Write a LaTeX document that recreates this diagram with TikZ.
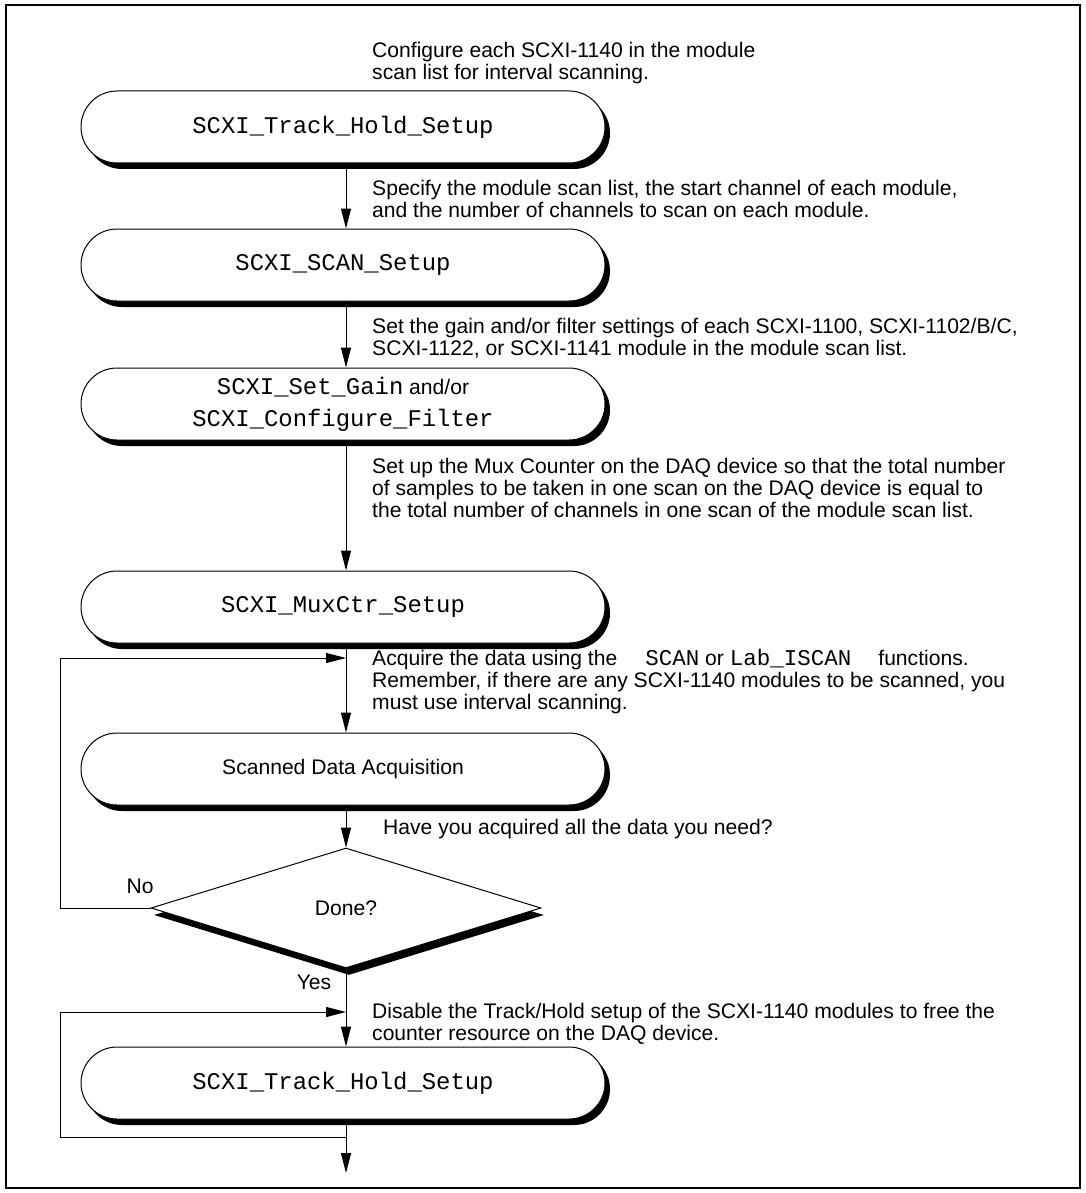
\documentclass[tikz,border=0pt]{standalone}
\usepackage{fontspec}
\setmainfont{Liberation Sans}
\setmonofont{Liberation Mono}
\usetikzlibrary{shapes.geometric,shapes.misc,shadows,arrows.meta}
\newcommand\txtsize{\fontsize{21.1}{22}\selectfont}
\newcommand\boxfnt{\fontsize{23.9}{32}\selectfont\ttfamily}
\newcommand\inlmono{\fontsize{22.5}{22}\selectfont\ttfamily}
\begin{document}
\begin{tikzpicture}[x=1pt,y=-1pt,
  every node/.style={inner sep=0pt},
  box/.style={rounded rectangle, draw, line width=1pt, fill=white,
    minimum width=524pt, minimum height=72pt, align=center, font=\boxfnt,
    drop shadow={shadow xshift=5pt, shadow yshift=-6pt, fill=black, opacity=1}},
  dec/.style={diamond, draw, line width=1pt, fill=white,
    minimum width=390pt, minimum height=120pt, font=\txtsize,
    drop shadow={shadow xshift=3pt, shadow yshift=-7pt, fill=black, opacity=1}},
  txt/.style={anchor=north west, align=left, font=\txtsize},
  lbl/.style={font=\txtsize},
  arr/.style={line width=1pt, -{Triangle[length=20pt,width=10pt]}}
]
\useasboundingbox (0,0) rectangle (1086,1193);
\draw[line width=2.2pt] (6,5) rectangle (1080,1188);

% boxes
\node[box] (b1) at (343,127) {SCXI\_Track\_Hold\_Setup};
\node[box] (b2) at (343,265) {SCXI\_SCAN\_Setup};
\node[box] (b3) at (343,404) {SCXI\_Set\_Gain{\rmfamily\txtsize\ and/or}\\SCXI\_Configure\_Filter};
\node[box] (b4) at (343,607) {SCXI\_MuxCtr\_Setup};
\node[box] (b5) at (343,769) {\rmfamily\txtsize Scanned Data Acquisition};
\node[dec] (d) at (346,908) {Done?};
\node[box] (b6) at (343,1083) {SCXI\_Track\_Hold\_Setup};

% texts
\node[txt] (t1) at (372,42.5) {Configure each SCXI-1140 in the module\\scan list for interval scanning.};
\node[txt] (t2) at (372,180.5) {Specify the module scan list, the start channel of each module,\\and the number of channels to scan on each module.};
\node[txt] (t3) at (372,318.5) {Set the gain and/or filter settings of each SCXI-1100, SCXI-1102/B/C,\\SCXI-1122, or SCXI-1141 module in the module scan list.};
\node[txt] (t4) at (372,458.5) {Set up the Mux Counter on the DAQ device so that the total number\\of samples to be taken in one scan on the DAQ device is equal to\\the total number of channels in one scan of the module scan list.};
\node[txt] (t5) at (372,648.5) {Acquire the data using the\hspace{28pt}{\inlmono SCAN} or {\inlmono Lab\_ISCAN}\hspace{27pt}functions.\\Remember, if there are any SCXI-1140 modules to be scanned, you\\must use interval scanning.};
\node[txt] (t6) at (383,819.5) {Have you acquired all the data you need?};
\node[txt] (t7) at (372,1002.5) {Disable the Track/Hold setup of the SCXI-1140 modules to free the\\counter resource on the DAQ device.};
\node[lbl] (no) at (140,886) {No};
\node[lbl] (yes) at (314,982) {Yes};

% coordinates
\coordinate (a1) at (346,658);
\coordinate (l1) at (60,908);
\coordinate (a2) at (346,1012);
\coordinate (l2) at (60,1137);
\coordinate (j2) at (346,1137);
\coordinate (e) at (346,1173);

% connectors
\draw[arr] (b1.south -| d.north) -- (b2.north -| d.north);
\draw[arr] (b2.south -| d.north) -- (b3.north -| d.north);
\draw[arr] (b3.south -| d.north) -- (b4.north -| d.north);
\draw[arr] (b4.south -| d.north) -- (b5.north -| d.north);
\draw[arr] (b5.south -| d.north) -- (d.north);
\draw[arr] (d.south) -- (b6.north -| d.north);
\draw[arr] (b6.south -| d.north) -- (e);
\draw[arr] (d.west) -- (l1) |- (a1);
\draw[arr] (j2) -- (l2) |- (a2);
\end{tikzpicture}
\end{document}
